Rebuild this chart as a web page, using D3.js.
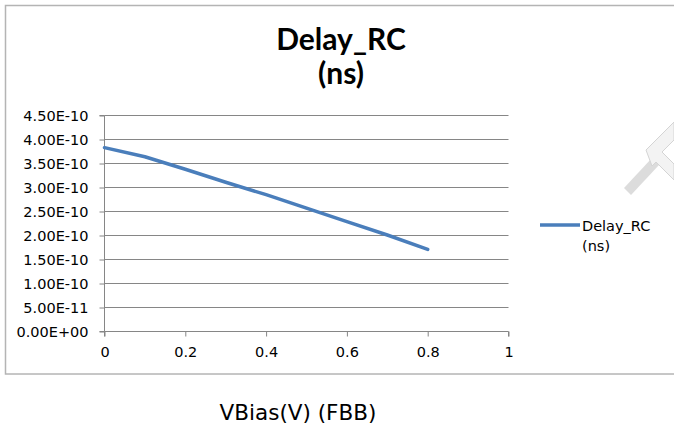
<!DOCTYPE html>
<html><head><meta charset="utf-8">
<script src="https://cdn.jsdelivr.net/npm/d3@7"></script>
<style>html,body{margin:0;padding:0;background:#fff;}svg{display:block;}</style>
</head><body>
<svg id="chart" width="674" height="425"></svg>
<script>
const xValues = [0, 0.1, 0.2, 0.3, 0.4, 0.5, 0.6, 0.7, 0.8];
const delayRC = [3.83e-10, 3.64e-10, 3.38e-10, 3.11e-10, 2.85e-10, 2.57e-10, 2.29e-10, 2.01e-10, 1.71e-10];
const xTicks = [0, 0.2, 0.4, 0.6, 0.8, 1];
const xTickLabels = ["0", "0.2", "0.4", "0.6", "0.8", "1"];
const yTicks = [0, 0.5e-10, 1e-10, 1.5e-10, 2e-10, 2.5e-10, 3e-10, 3.5e-10, 4e-10, 4.5e-10];
const yTickLabels = ["0.00E+00","5.00E-11","1.00E-10","1.50E-10","2.00E-10","2.50E-10","3.00E-10","3.50E-10","4.00E-10","4.50E-10"];
const titleLines = ["Delay_RC", "(ns)"];
const legendLines = ["Delay_RC", "(ns)"];
const xTitle = "VBias(V) (FBB)";

const svg = d3.select("#chart");
const lineColor = "#4a7ebb";
const axisColor = "#868686";
const tickFont = "DejaVu Sans, sans-serif";

// faint watermark fragment (top right), drawn as shapes
svg.append("path").attr("d", "M624,188L652,158L659,165L631,195Z")
  .attr("fill", "#dcdcdc").attr("stroke", "none");
svg.append("path").attr("d", "M646,150L674,122L674,140L662,152L674,164L674,180L656,162L652,166Z")
  .attr("fill", "#f3f3f3").attr("stroke", "#d4d4d4").attr("stroke-width", 1);

// chart border
svg.append("rect").attr("x", 5.5).attr("y", 5.5).attr("width", 680).attr("height", 368.5)
  .attr("fill", "none").attr("stroke", "#b4b4b4").attr("stroke-width", 1.5);

const x = d3.scaleLinear().domain([0, 1]).range([104.5, 508.5]);
const y = d3.scaleLinear().domain([0, 4.5e-10]).range([331.5, 115.5]);

// gridlines
svg.append("g").selectAll("line").data(yTicks.slice(1)).join("line")
  .attr("x1", x(0)).attr("x2", x(1)).attr("y1", d => y(d)).attr("y2", d => y(d))
  .attr("stroke", axisColor).attr("stroke-width", 1);

// y axis
const yAxis = d3.axisLeft(y).tickValues(yTicks).tickSize(5).tickPadding(11)
  .tickFormat((d, i) => yTickLabels[i]);
const gy = svg.append("g").attr("transform", `translate(${x(0)},0)`).call(yAxis);
gy.select(".domain").attr("stroke", axisColor).attr("d", `M-5,${y(0)}H0V${y(4.5e-10)}H-5`);
gy.selectAll(".tick line").attr("stroke", axisColor);
gy.selectAll(".tick text").attr("font-family", tickFont).attr("font-size", 14.5).attr("fill", "#000");

// x axis
const xAxis = d3.axisBottom(x).tickValues(xTicks).tickSize(5).tickPadding(10)
  .tickFormat((d, i) => xTickLabels[i]);
const gx = svg.append("g").attr("transform", `translate(0,${y(0)})`).call(xAxis);
gx.select(".domain").attr("stroke", axisColor).attr("d", `M${x(0)},5V0H${x(1)}V5`);
gx.selectAll(".tick line").attr("stroke", axisColor);
gx.selectAll(".tick text").attr("font-family", tickFont).attr("font-size", 14.5).attr("fill", "#000");

// data line
const line = d3.line().x((d, i) => x(xValues[i])).y(d => y(d));
svg.append("path").datum(delayRC).attr("d", line)
  .attr("fill", "none").attr("stroke", lineColor).attr("stroke-width", 3.5)
  .attr("stroke-linejoin", "round").attr("stroke-linecap", "round");

// title
svg.append("g").selectAll("text").data(titleLines).join("text")
  .attr("x", 341).attr("y", (d, i) => 50 + i * 34)
  .attr("text-anchor", "middle").attr("font-family", "Lato, sans-serif")
  .attr("font-weight", "bold").attr("font-size", 30).attr("fill", "#000").text(d => d);

// legend
svg.append("line").attr("x1", 540).attr("x2", 580).attr("y1", 225).attr("y2", 225)
  .attr("stroke", lineColor).attr("stroke-width", 3.5);
svg.append("g").selectAll("text").data(legendLines).join("text")
  .attr("x", 582).attr("y", (d, i) => 231 + i * 20)
  .attr("font-family", tickFont).attr("font-size", 14.5).attr("fill", "#000").text(d => d);

// x axis title
svg.append("text").attr("x", 298).attr("y", 420).attr("text-anchor", "middle")
  .attr("font-family", tickFont).attr("font-size", 21.5).attr("fill", "#000").text(xTitle);
</script>
</body></html>
